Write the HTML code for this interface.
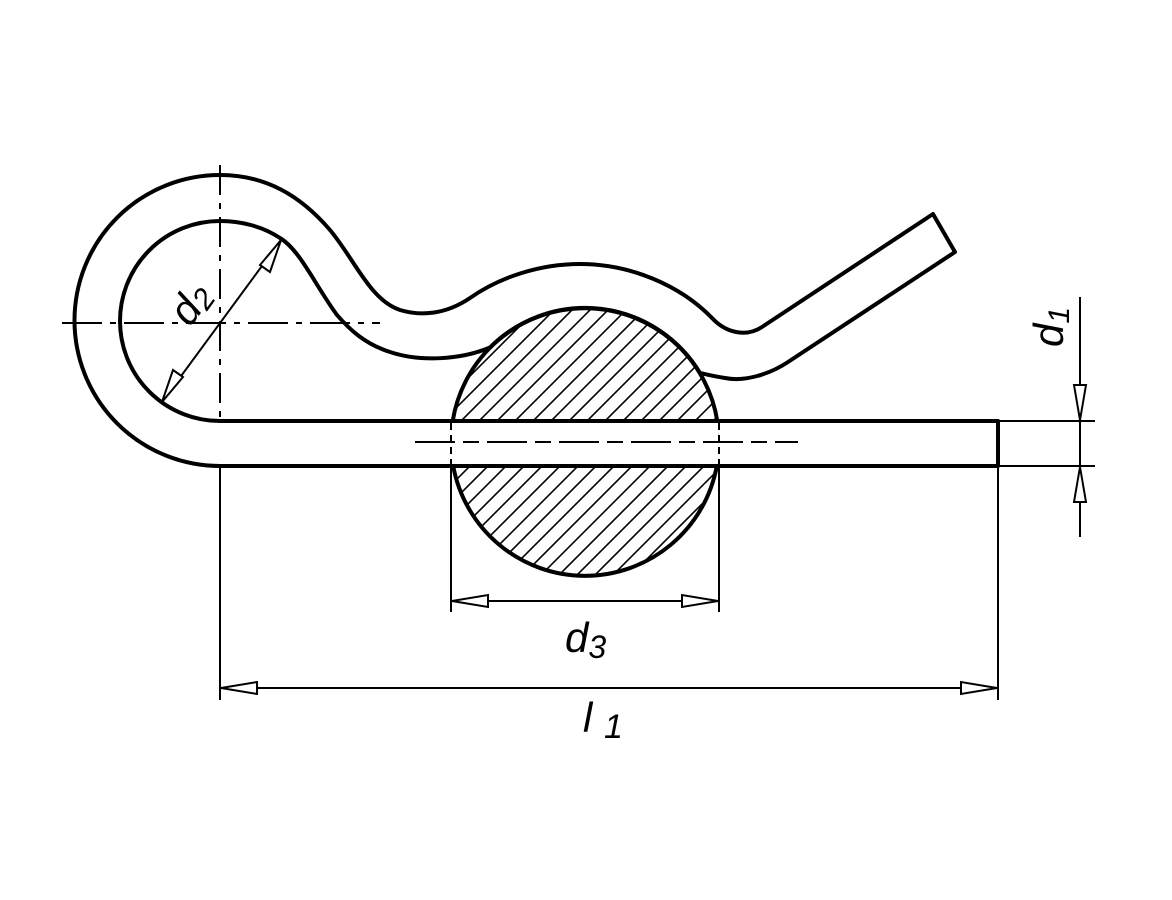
<!DOCTYPE html>
<html><head><meta charset="utf-8"><style>
html,body{margin:0;padding:0;background:#fff;}
svg{display:block;}
text{font-family:"Liberation Sans",sans-serif;font-style:italic;fill:#000;}
</style></head><body>
<svg width="1172" height="900" viewBox="0 0 1172 900" xmlns="http://www.w3.org/2000/svg">
<defs>
<clipPath id="c"><circle cx="585" cy="442" r="134"/></clipPath>
</defs>
<rect width="1172" height="900" fill="#fff"/>
<g clip-path="url(#c)" stroke="#000" stroke-width="1.6">
<line x1="246" y1="600" x2="566" y2="280"/>
<line x1="264" y1="600" x2="584" y2="280"/>
<line x1="282" y1="600" x2="602" y2="280"/>
<line x1="300" y1="600" x2="620" y2="280"/>
<line x1="318" y1="600" x2="638" y2="280"/>
<line x1="336" y1="600" x2="656" y2="280"/>
<line x1="354" y1="600" x2="674" y2="280"/>
<line x1="372" y1="600" x2="692" y2="280"/>
<line x1="390" y1="600" x2="710" y2="280"/>
<line x1="408" y1="600" x2="728" y2="280"/>
<line x1="426" y1="600" x2="746" y2="280"/>
<line x1="444" y1="600" x2="764" y2="280"/>
<line x1="462" y1="600" x2="782" y2="280"/>
<line x1="480" y1="600" x2="800" y2="280"/>
<line x1="498" y1="600" x2="818" y2="280"/>
<line x1="516" y1="600" x2="836" y2="280"/>
<line x1="534" y1="600" x2="854" y2="280"/>
<line x1="552" y1="600" x2="872" y2="280"/>
<line x1="570" y1="600" x2="890" y2="280"/>
<line x1="588" y1="600" x2="908" y2="280"/>
<line x1="606" y1="600" x2="926" y2="280"/>
<rect x="440" y="421" width="300" height="45" fill="#fff" stroke="none"/>
</g>
<path d="M452.7,421 A134,134 0 0,1 717.3,421" fill="none" stroke="#000" stroke-width="4"/>
<path d="M453.2,466 A134,134 0 0,0 716.8,466" fill="none" stroke="#000" stroke-width="4"/>
<line x1="451" y1="423" x2="451" y2="464" stroke="#000" stroke-width="2" stroke-dasharray="7,5"/>
<line x1="719" y1="423" x2="719" y2="464" stroke="#000" stroke-width="2" stroke-dasharray="7,5"/>
<g fill="none" stroke="#000" stroke-width="4" stroke-linejoin="round">
<path d="M220,175 C265,175 300,195 330,230 C355,260 370,300 400,310 C420,316 445,315 470,298 C500,277 540,264 580,264 C630,264 680,285 712,318 C725,332 745,338 762,327 L933,214 L955,252 L788,362 C770,374 745,382 725,378 C712,376 705,374 700,373 A134,134 0 0,0 490,347.5 C460,360 420,362 390,352 C365,344 350,330 337,315 C315,285 300,250 280,238 C262,226 240,221 220,221"/>
<path d="M220,175 A145.5,145.5 0 0,0 220,466 L998,466 L998,421 L220,421 A100,100 0 0,1 220,221"/>
</g>
<g stroke="#000" stroke-width="2" fill="none">
<line x1="62" y1="323" x2="380" y2="323" stroke-dasharray="40,8,6,8"/>
<line x1="220" y1="165" x2="220" y2="421" stroke-dasharray="30,8,6,8"/>
<line x1="415" y1="442" x2="798" y2="442" stroke-dasharray="40,8,16,8"/>
<line x1="220" y1="466" x2="220" y2="700"/>
<line x1="998" y1="466" x2="998" y2="700"/>
<line x1="451" y1="466" x2="451" y2="612"/>
<line x1="719" y1="466" x2="719" y2="612"/>
<line x1="998" y1="421" x2="1095" y2="421"/>
<line x1="998" y1="466" x2="1095" y2="466"/>
<line x1="220" y1="688" x2="998" y2="688"/>
<line x1="451" y1="601" x2="719" y2="601"/>
<line x1="1080" y1="297" x2="1080" y2="537"/>
<line x1="162" y1="402" x2="281" y2="240"/>
</g>
<g fill="#fff" stroke="#000" stroke-width="2" stroke-linejoin="miter">
<polygon points="221,688 257,682 257,694"/>
<polygon points="997,688 961,682 961,694"/>
<polygon points="452,601 488,595 488,607"/>
<polygon points="718,601 682,595 682,607"/>
<polygon points="1080,420 1074,385 1086,385"/>
<polygon points="1080,467 1074,502 1086,502"/>
<polygon points="281,240 270,272 260,265"/>
<polygon points="162,402 173,370 183,377"/>
</g>
<text x="565" y="652" font-size="42">d<tspan font-size="32" dy="6">3</tspan></text>
<text x="583" y="732" font-size="42">l <tspan font-size="34" dy="6">1</tspan></text>
<text transform="translate(1063,347) rotate(-90)" font-size="42">d<tspan font-size="30" dy="6">1</tspan></text>
<text transform="translate(190,328) rotate(-54)" font-size="42">d<tspan font-size="30" dy="4">2</tspan></text>
</svg>
</body></html>
